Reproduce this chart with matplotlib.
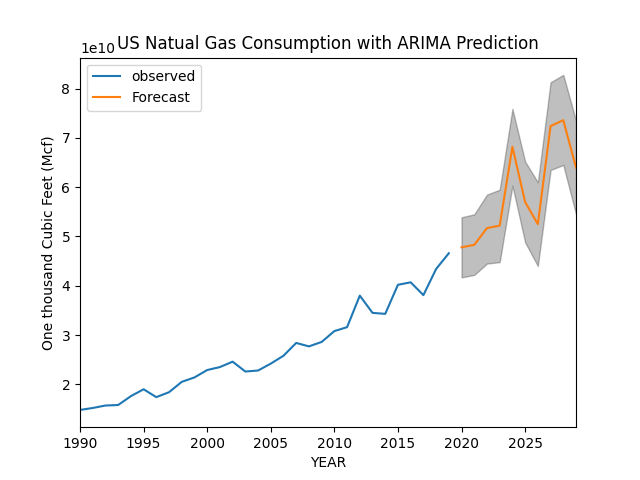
import matplotlib
matplotlib.use("Agg")
import matplotlib.pyplot as plt

obs_years = list(range(1990, 2020))
obs_vals = [1.48, 1.52, 1.57, 1.58, 1.76, 1.90, 1.74, 1.84, 2.05, 2.14,
            2.29, 2.35, 2.46, 2.26, 2.28, 2.42, 2.58, 2.84, 2.77, 2.86,
            3.08, 3.16, 3.80, 3.45, 3.43, 4.02, 4.07, 3.81, 4.34, 4.66]
fc_years = list(range(2020, 2030))
fc_vals = [4.78, 4.83, 5.17, 5.22, 6.82, 5.70, 5.25, 7.24, 7.36, 6.40]
fc_lower = [4.17, 4.22, 4.45, 4.48, 6.03, 4.88, 4.40, 6.35, 6.45, 5.45]
fc_upper = [5.39, 5.45, 5.85, 5.95, 7.59, 6.52, 6.10, 8.13, 8.28, 7.35]

scale = 1e10
fig, ax = plt.subplots(figsize=(6.4, 4.8))
ax.plot(obs_years, [v * scale for v in obs_vals], label="observed")
ax.plot(fc_years, [v * scale for v in fc_vals], label="Forecast")
ax.fill_between(fc_years, [v * scale for v in fc_lower], [v * scale for v in fc_upper],
                color="k", alpha=0.25)
ax.set_xlim(1990, 2029)
ax.set_ylim(1.13e10, 8.63e10)
ax.set_xlabel("YEAR")
ax.set_ylabel("One thousand Cubic Feet (Mcf)")
ax.set_title("US Natual Gas Consumption with ARIMA Prediction")
ax.legend(loc="upper left")
fig.savefig("out.png", dpi=100)
